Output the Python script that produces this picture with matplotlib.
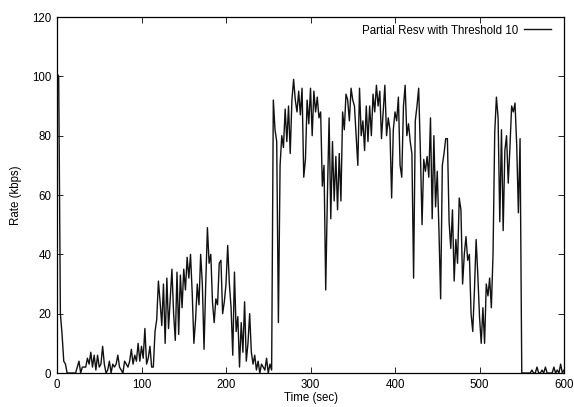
import numpy as np
import matplotlib
matplotlib.use("Agg")
import matplotlib.pyplot as plt

plt.rcParams["font.family"] = ["Liberation Sans", "DejaVu Sans"]

# rate samples every 2 s, from 0 to 600 s
time_sec = np.arange(0, 601, 2)
rate_kbps = [
    101, 100, 20, 13, 4, 3, 0, 0, 0, 0,
    0, 0, 2, 4, 0, 2, 2, 2, 5, 3,
    7, 2, 6, 1, 6, 2, 3, 9, 3, 0,
    1, 4, 0, 3, 2, 3, 6, 2, 1, 0,
    4, 3, 2, 4, 8, 3, 6, 4, 10, 4,
    9, 5, 15, 3, 5, 9, 2, 2, 14, 18,
    31, 24, 16, 30, 10, 32, 15, 25, 35, 20,
    11, 34, 13, 33, 22, 35, 28, 39, 32, 40,
    27, 10, 18, 30, 23, 40, 30, 8, 30, 49,
    37, 40, 24, 17, 25, 23, 37, 38, 20, 24,
    30, 43, 30, 22, 6, 34, 14, 19, 2, 17,
    7, 24, 4, 10, 20, 7, 3, 6, 1, 4,
    0, 3, 2, 1, 5, 0, 3, 1, 92, 82,
    78, 17, 70, 80, 76, 89, 78, 90, 74, 92,
    99, 92, 88, 95, 87, 96, 66, 72, 92, 84,
    96, 80, 95, 88, 93, 86, 88, 63, 70, 28,
    60, 86, 52, 78, 58, 73, 55, 74, 58, 88,
    82, 94, 92, 85, 96, 92, 90, 80, 70, 96,
    80, 85, 75, 90, 78, 90, 80, 94, 88, 97,
    90, 95, 79, 88, 97, 80, 86, 82, 59, 82,
    88, 85, 93, 70, 66, 90, 97, 80, 84, 78,
    74, 32, 85, 90, 96, 75, 50, 72, 68, 73,
    66, 86, 52, 80, 56, 68, 48, 25, 70, 74,
    79, 79, 51, 42, 55, 31, 45, 37, 59, 55,
    30, 40, 46, 38, 40, 20, 14, 28, 45, 33,
    19, 10, 22, 10, 30, 26, 32, 22, 40, 81,
    93, 86, 51, 82, 48, 75, 80, 64, 76, 90,
    88, 91, 77, 54, 79, 0, 0, 0, 0, 0,
    0, 1, 0, 0, 2, 0, 0, 1, 0, 2,
    0, 0, 0, 0, 2, 0, 1, 0, 3, 0,
    1,
]
x_ticks = [0, 100, 200, 300, 400, 500, 600]
y_ticks = [0, 20, 40, 60, 80, 100, 120]

fig = plt.figure(figsize=(5.74, 4.07), dpi=100)
ax = fig.add_axes([0.0993, 0.0835, 0.8833, 0.8747])

ax.plot(time_sec, rate_kbps, color="#111111", lw=1.0,
        label="Partial Resv with Threshold 10")

ax.set_xlim(0, 600)
ax.set_ylim(0, 120)
ax.set_xticks(x_ticks)
ax.set_yticks(y_ticks)
ax.tick_params(direction="in", length=4, width=0.6, labelsize=8.3,
               top=True, right=True, pad=4, colors="black")
for s in ax.spines.values():
    s.set_linewidth(0.9)

ax.set_xlabel("Time (sec)", fontsize=8.3, labelpad=1)
ax.set_ylabel("Rate (kbps)", fontsize=8.3, labelpad=7)

ax.legend(loc="upper right", frameon=False, fontsize=8.3, markerfirst=False,
          handlelength=2.4, borderaxespad=0.35, borderpad=0.3,
          handletextpad=0.5, bbox_to_anchor=(0.99, 1.0))

fig.savefig("out.png", dpi=100)
